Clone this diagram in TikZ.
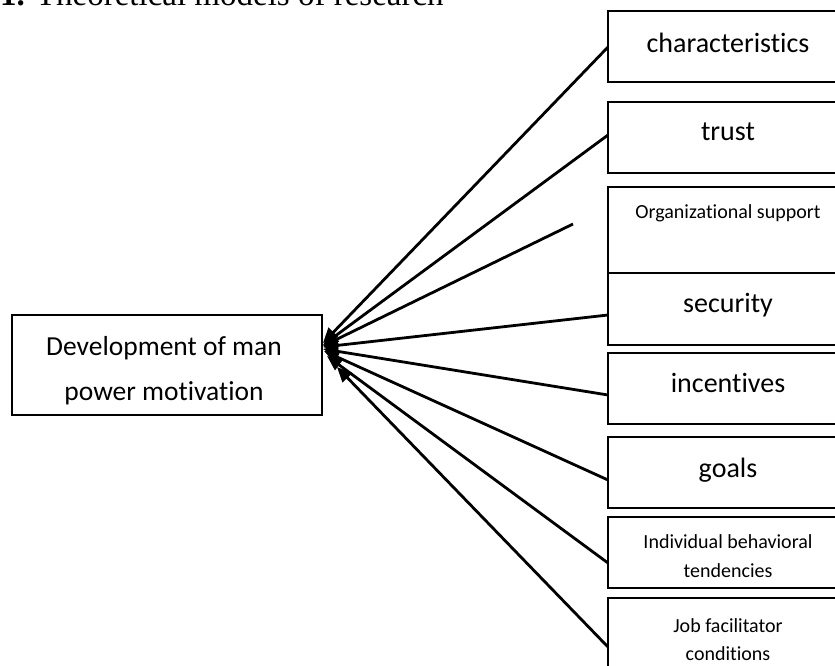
\documentclass[tikz,border=0pt]{standalone}
\usepackage{fontspec}
\setmainfont{Carlito}[Ligatures=NoCommon]
\newfontfamily\titlefont{Liberation Serif}
\usetikzlibrary{arrows.meta}
\begin{document}
\begin{tikzpicture}[x=1pt,y=-1pt,
  box/.style={draw, line width=2.2pt, minimum width=240pt, inner sep=0pt},
  biglbl/.style={anchor=base, inner sep=0pt, font=\fontsize{28}{34}\selectfont},
  smalllbl/.style={anchor=base, inner sep=0pt, font=\fontsize{20}{24}\selectfont},
  devlbl/.style={anchor=base, inner sep=0pt, font=\fontsize{27.5}{32}\selectfont},
  conn/.style={line width=2.8pt, -{Triangle[length=15pt,width=13pt]}}]
\useasboundingbox (0,0) rectangle (835,665);
\clip (0,0) rectangle (835,665);
\fill[white] (0,0) rectangle (835,665);

% title (clipped at top, as in the reference)
\node[anchor=base west, inner sep=0pt, font=\titlefont\fontsize{33}{40}\selectfont] (title) at (0,5) {\textbf{1.} Theoretical models of research};

% left box
\node[draw, line width=2.2pt, minimum width=310pt, minimum height=100pt, inner sep=0pt] (dev) at (167,365) {};
\node[devlbl] (devA) at (164,355) {Development of man};
\node[devlbl] (devB) at (164,400) {power motivation};

% right boxes
\node[box, minimum height=71pt] (b1) at (728,46.5) {};
\node[box, minimum height=71pt] (b2) at (728,137.5) {};
\node[box, minimum height=86pt] (b3) at (728,230) {};
\node[box, minimum height=72pt] (b4) at (728,309) {};
\node[box, minimum height=71pt] (b5) at (728,388.5) {};
\node[box, minimum height=71pt] (b6) at (728,472.5) {};
\node[box, minimum height=71pt] (b7) at (728,552.5) {};
\node[box, minimum height=82pt] (b8) at (728,639) {};

\node[biglbl] (t1) at (728,52) {characteristics};
\node[biglbl] (t2) at (728,140) {trust};
\node[smalllbl] (t3) at (728,218) {Organizational support};
\node[biglbl] (t4) at (728,312) {security};
\node[biglbl] (t5) at (728,392) {incentives};
\node[biglbl] (t6) at (728,477) {goals};
\node[smalllbl] (t7a) at (728,548) {Individual behavioral};
\node[smalllbl] (t7b) at (728,577) {tendencies};
\node[smalllbl] (t8a) at (728,632) {Job facilitator};
\node[smalllbl] (t8b) at (728,660) {conditions};

% connector ends
\coordinate (s1) at (608,47);
\coordinate (s2) at (608,135);
\coordinate (s3) at (573,224);
\coordinate (s4) at (608,315);
\coordinate (s5) at (608,395);
\coordinate (s6) at (608,480);
\coordinate (s7) at (608,563);
\coordinate (s8) at (608,647);

\coordinate (h1) at (323,343);
\coordinate (h2) at (323,345);
\coordinate (h3) at (323,346);
\coordinate (h4) at (323,347);
\coordinate (h5) at (323,349);
\coordinate (h6) at (324,351);
\coordinate (h7) at (327,356);
\coordinate (h8) at (337,367);

\foreach \i in {1,...,8} {\draw[conn] (s\i) -- (h\i);}
\end{tikzpicture}
\end{document}
